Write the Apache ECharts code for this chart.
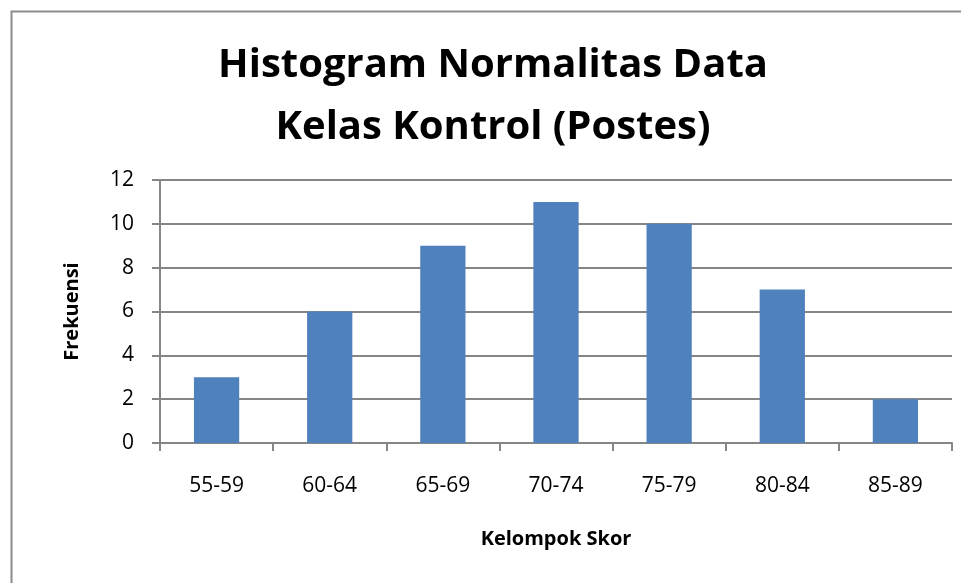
<!DOCTYPE html>
<html><head><meta charset="utf-8">
<script src="https://cdn.jsdelivr.net/npm/echarts@6/dist/echarts.min.js"></script>
<style>html,body{margin:0;padding:0;background:#fff}#c{width:961px;height:583px}</style>
</head><body><div id="c"></div>
<script>
const categories = ['55-59','60-64','65-69','70-74','75-79','80-84','85-89'];
const frequencies = [3, 6, 9, 11, 10, 7, 2];
const titleText = 'Histogram Normalitas Data\nKelas Kontrol (Postes)';
const xName = 'Kelompok Skor';
const yName = 'Frekuensi';

const chart = echarts.init(document.getElementById('c'), null, {renderer: 'canvas'});
const font = '"Open Sans", "Noto Sans", sans-serif';
chart.setOption({
  animation: false,
  backgroundColor: '#fff',
  graphic: [{
    type: 'rect', left: 9, top: 9, silent: true,
    shape: {width: 1000, height: 1000},
    style: {fill: 'none', stroke: '#8c8c8c', lineWidth: 2}
  }],
  title: {
    text: titleText, left: 488, top: 30, textAlign: 'center',
    textStyle: {fontFamily: font, fontSize: 40, fontWeight: 'bold', color: '#000', lineHeight: 62}
  },
  grid: {left: 160, right: 9, top: 180, bottom: 140},
  xAxis: {
    type: 'category', data: categories,
    name: xName, nameLocation: 'middle', nameGap: 86,
    nameTextStyle: {fontFamily: font, fontSize: 20, fontWeight: 'bold', color: '#000'},
    axisLine: {lineStyle: {color: '#868686', width: 2}},
    axisTick: {show: true, length: 8, lineStyle: {color: '#868686', width: 2}, alignWithLabel: false},
    axisLabel: {fontFamily: font, fontSize: 21, color: '#000', margin: 33}
  },
  yAxis: {
    type: 'value', min: 0, max: 12, interval: 2,
    name: yName, nameLocation: 'middle', nameGap: 78, nameRotate: 90,
    nameTextStyle: {fontFamily: font, fontSize: 20, fontWeight: 'bold', color: '#000'},
    axisLine: {show: true, lineStyle: {color: '#868686', width: 2}},
    axisTick: {show: true, length: 8, inside: false, lineStyle: {color: '#868686', width: 2}},
    axisLabel: {fontFamily: font, fontSize: 21, color: '#000', margin: 26},
    splitLine: {lineStyle: {color: '#868686', width: 2}}
  },
  series: [{
    type: 'bar', data: frequencies, barWidth: '40%',
    itemStyle: {color: '#4F81BD'}
  }]
});
</script></body></html>
